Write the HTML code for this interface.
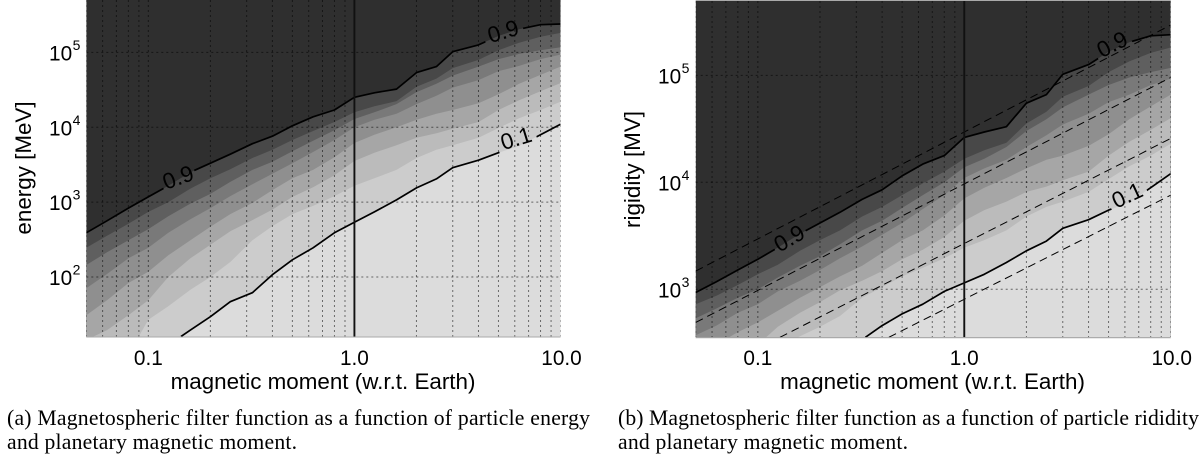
<!DOCTYPE html>
<html lang="en">
<head>
<meta charset="utf-8">
<title>Magnetospheric filter function</title>
<style>
html,body{margin:0;padding:0;background:#fff;width:1200px;height:455px;overflow:hidden}
svg{display:block}
.tick{font-family:"Liberation Sans",sans-serif;font-size:20.8px;fill:#000}
.title{font-family:"Liberation Sans",sans-serif;font-size:22.4px;fill:#000}
.clabel{font-family:"Liberation Sans",sans-serif;font-size:22.5px;fill:#000}
.caption{font-family:"Liberation Serif",serif;font-size:21.7px;fill:#000}
</style>
</head>
<body>
<svg id="figure" width="1200" height="455" viewBox="0 0 1200 455" xmlns="http://www.w3.org/2000/svg">
  <g id="panel-a"></g>
  <g id="panel-b"></g>
  <text class="caption" x="7" y="425" textLength="583" lengthAdjust="spacing">(a) Magnetospheric filter function as a function of particle energy</text>
  <text class="caption" x="7" y="449" textLength="290" lengthAdjust="spacing">and planetary magnetic moment.</text>
  <text class="caption" x="618" y="425" textLength="581" lengthAdjust="spacing">(b) Magnetospheric filter function as a function of particle rididity</text>
  <text class="caption" x="618" y="449" textLength="290" lengthAdjust="spacing">and planetary magnetic moment.</text>
</svg>
<script>
// Shared x grid: planetary magnetic moment (w.r.t. Earth)
const moments = [0.05,0.063,0.08,0.1,0.125,0.16,0.2,0.25,0.32,0.4,0.5,0.63,0.8,1,1.25,1.6,2,2.5,3,4,5,6.3,8,10];
const xGridMoments = [0.05,0.06,0.07,0.08,0.09,0.1,0.2,0.3,0.4,0.5,0.6,0.7,0.8,0.9,1,2,3,4,5,6,7,8,9,10];
const xTickValues = [0.1,1,10];
const xTickLabels = ["0.1","1.0","10.0"];
const bandColors = ["#484848","#5f5f5f","#797979","#8f8f8f","#a6a6a6","#bbbbbb","#cccccc","#dcdcdc"];
const bandLevels = ["0.9","0.8","0.7","0.6","0.5","0.4","0.25","0.1"];

// Panel (a): log10 of energy [MeV] of each filter contour, one value per moment
const energy90 = [2.59,2.75,2.92,3.07,3.22,3.40,3.52,3.64,3.78,3.88,4.02,4.14,4.23,4.40,4.46,4.51,4.73,4.81,5.01,5.10,5.22,5.31,5.37,5.38];
const energy80 = [2.39,2.55,2.71,2.87,3.00,3.18,3.32,3.44,3.59,3.70,3.83,3.95,4.07,4.20,4.28,4.35,4.54,4.65,4.79,4.90,5.03,5.13,5.21,5.26];
const energy70 = [2.16,2.33,2.49,2.64,2.81,2.98,3.11,3.27,3.43,3.54,3.68,3.82,3.96,4.11,4.20,4.31,4.47,4.58,4.69,4.81,4.91,4.98,5.03,5.07];
const energy60 = [1.85,2.04,2.25,2.39,2.59,2.77,2.92,3.08,3.24,3.38,3.52,3.67,3.83,4.00,4.10,4.18,4.31,4.42,4.53,4.63,4.75,4.82,4.91,4.97];
const energy50 = [1.49,1.69,1.92,2.07,2.29,2.49,2.67,2.84,2.99,3.16,3.32,3.43,3.60,3.79,3.90,4.00,4.10,4.18,4.23,4.32,4.44,4.58,4.70,4.81];
const energy40 = [1.16,1.29,1.49,1.69,2.00,2.25,2.43,2.61,2.76,2.90,3.07,3.20,3.36,3.55,3.66,3.76,3.86,3.92,3.98,4.07,4.23,4.36,4.48,4.59];
const energy25 = [0.09,0.42,0.96,1.43,1.61,1.83,2.00,2.20,2.49,2.68,2.84,2.95,3.08,3.22,3.32,3.43,3.59,3.70,3.76,3.86,3.99,4.12,4.23,4.34];
const energy10 = [-0.18,0.22,0.62,0.92,1.09,1.29,1.47,1.67,1.79,2.03,2.23,2.39,2.59,2.73,2.87,3.03,3.19,3.31,3.46,3.56,3.66,3.75,3.90,4.04];
const energyTickExponents = [2,3,4,5];

// Panel (b): log10 of rigidity [MV] of each filter contour, one value per moment
const rigidity90 = [2.97,3.07,3.18,3.28,3.39,3.52,3.62,3.72,3.84,3.93,4.06,4.17,4.25,4.42,4.47,4.52,4.74,4.82,5.01,5.10,5.22,5.31,5.37,5.38];
const rigidity80 = [2.86,2.94,3.04,3.14,3.23,3.36,3.46,3.55,3.68,3.77,3.88,3.99,4.10,4.22,4.30,4.37,4.55,4.66,4.80,4.90,5.03,5.13,5.21,5.26];
const rigidity70 = [2.73,2.82,2.92,3.00,3.11,3.22,3.31,3.42,3.55,3.64,3.76,3.88,4.00,4.14,4.22,4.33,4.48,4.59,4.70,4.82,4.91,4.98,5.03,5.07];
const rigidity60 = [2.57,2.66,2.78,2.86,2.98,3.08,3.18,3.29,3.40,3.51,3.62,3.75,3.88,4.04,4.13,4.21,4.33,4.44,4.54,4.64,4.75,4.82,4.91,4.97];
const rigidity50 = [2.38,2.48,2.60,2.69,2.80,2.92,3.02,3.12,3.22,3.34,3.46,3.55,3.69,3.85,3.95,4.04,4.13,4.21,4.25,4.34,4.45,4.59,4.71,4.82];
const rigidity40 = [2.21,2.28,2.38,2.48,2.65,2.78,2.88,2.99,3.08,3.17,3.28,3.37,3.49,3.64,3.74,3.82,3.91,3.96,4.02,4.10,4.25,4.38,4.49,4.60];
const rigidity25 = [1.64,1.84,2.12,2.35,2.45,2.56,2.65,2.75,2.92,3.02,3.12,3.20,3.29,3.39,3.46,3.55,3.68,3.77,3.82,3.91,4.03,4.15,4.25,4.36];
const rigidity10 = [1.55,1.75,1.95,2.10,2.19,2.28,2.37,2.47,2.53,2.66,2.77,2.86,2.98,3.06,3.14,3.25,3.36,3.45,3.57,3.65,3.74,3.81,3.95,4.08];
const rigidityTickExponents = [3,4,5];

// Panel (b): dashed reference lines, log10 rigidity at the two end moments
const dashMoments = [0.05,10];
const dashLineA = [3.17,5.47];
const dashLineB = [2.69,4.98];
const dashLineC = [2.15,4.41];
const dashLineD = [1.64,3.88];

const energySeries = [energy90,energy80,energy70,energy60,energy50,energy40,energy25,energy10];
const rigiditySeries = [rigidity90,rigidity80,rigidity70,rigidity60,rigidity50,rigidity40,rigidity25,rigidity10];
const dashSeries = [dashLineA,dashLineB,dashLineC,dashLineD];

const NS = "http://www.w3.org/2000/svg";
function make(parent, tag, attrs, text){
  const el = document.createElementNS(NS, tag);
  for (const k in attrs) el.setAttribute(k, attrs[k]);
  if (text !== undefined) el.textContent = text;
  parent.appendChild(el);
  return el;
}

function drawPanel(cfg){
  const root = document.getElementById(cfg.id);
  const L = cfg.left, R = cfg.right, T = cfg.top, B = cfg.bottom;
  const xScale = m => L + (Math.log10(m) - Math.log10(0.05)) / (Math.log10(10) - Math.log10(0.05)) * (R - L);
  const yScale = v => B - (v - cfg.yMin) / (cfg.yMax - cfg.yMin) * (B - T);

  // Trace one contour, cutting it exactly where it crosses the plot floor.
  const tracePoints = function(vals){
    const out = [];
    moments.forEach(function(m, j){
      const x = xScale(m), y = yScale(vals[j]);
      if (j > 0){
        const px = xScale(moments[j - 1]), py = yScale(vals[j - 1]);
        if (py > B && y <= B){
          const f = (py - B) / (py - y);
          out.push((px + (x - px) * f).toFixed(1) + "," + B);
        }
      }
      if (y <= B) out.push(x.toFixed(1) + "," + y.toFixed(1));
    });
    return out;
  };

  const defs = make(root, "defs", {});
  const clip = make(defs, "clipPath", {id: cfg.id + "-clip"});
  make(clip, "rect", {x: L, y: T, width: R - L, height: B - T});
  const mask = make(defs, "mask", {id: cfg.id + "-mask", maskUnits: "userSpaceOnUse", x: 0, y: 0, width: 1200, height: 455});
  make(mask, "rect", {x: 0, y: 0, width: 1200, height: 455, fill: "#fff"});
  cfg.labels.forEach(function(lb){
    make(mask, "rect", {x: lb.x - lb.gap / 2, y: lb.y - 18, width: lb.gap, height: 36, fill: "#000",
      transform: "rotate(" + lb.angle + " " + lb.x + " " + lb.y + ")"});
  });

  const plot = make(root, "g", {"clip-path": "url(#" + cfg.id + "-clip)"});
  
  

  const bg = make(plot, "rect", {x: L, y: T, width: R - L, height: B - T, fill: "#2f2f2f"});
  
  

  cfg.series.forEach(function(vals, i){
    const pts = tracePoints(vals);
    pts.push(R + "," + B);
    if (yScale(vals[0]) <= B) pts.push(L + "," + B);
    const band = make(plot, "polygon", {points: pts.join(" "), fill: bandColors[i]});
    
    
  });

  xGridMoments.forEach(function(m){
    const gx = make(plot, "line", {x1: xScale(m), x2: xScale(m), y1: T, y2: B, stroke: "#000", "stroke-opacity": 0.52, "stroke-width": 1, "stroke-dasharray": "2 3"});
    
    
  });
  cfg.yTicks.forEach(function(e){
    const gy = make(plot, "line", {x1: L, x2: R, y1: yScale(e), y2: yScale(e), stroke: "#000", "stroke-opacity": 0.55, "stroke-width": 1, "stroke-dasharray": "2 3"});
    
    
  });

  if (cfg.dashes){
    cfg.dashes.forEach(function(d){
      const x0 = xScale(dashMoments[0]), x1 = xScale(dashMoments[1]);
      const y0 = yScale(d[0]), y1 = yScale(d[1]);
      // Lines that start below the plot are trimmed to the plot floor.
      const f = y0 > B ? (y0 - B) / (y0 - y1) : 0;
      const dl = make(plot, "line", {x1: x0 + (x1 - x0) * f, y1: y0 + (y1 - y0) * f, x2: x1, y2: y1, stroke: "#000", "stroke-width": 1, "stroke-dasharray": "8 5"});
      
      
    });
  }

  const lines = make(plot, "g", {mask: "url(#" + cfg.id + "-mask)"});
  
  
  [0, 7].forEach(function(i){
    const pts = tracePoints(cfg.series[i]).join(" ");
    const line = make(lines, "polyline", {points: pts, fill: "none", stroke: "#000", "stroke-width": 1.7, "stroke-linejoin": "round"});
    
    
  });

  const earth = make(plot, "line", {x1: xScale(1), x2: xScale(1), y1: T, y2: B, stroke: "#111", "stroke-width": 1.9});
  
  

  const axisLine = make(root, "line", {x1: L, x2: R, y1: B + 0.5, y2: B + 0.5, stroke: "#aaa", "stroke-width": 1});
  
  
  if (T > 0){
    const topLine = make(root, "line", {x1: L, x2: R, y1: T - 0.5, y2: T - 0.5, stroke: "#aaa", "stroke-width": 1});
    
    
  }

  cfg.labels.forEach(function(lb){
    const t = make(root, "text", {class: "clabel", x: lb.x, y: lb.y + 8, "text-anchor": "middle",
      transform: "rotate(" + lb.angle + " " + lb.x + " " + lb.y + ")"}, lb.text);
    
    
  });

  xTickValues.forEach(function(m, i){
    const t = make(root, "text", {class: "tick", x: xScale(m) + (i === 2 ? 1 : 0), y: 365, "text-anchor": "middle"}, xTickLabels[i]);
    
    
  });
  cfg.yTicks.forEach(function(e){
    const t = make(root, "text", {class: "tick", x: cfg.yTickX, y: yScale(e) + 8}, "10");
    
    
    make(t, "tspan", {dx: 0.5, dy: -10.5, "font-size": 14}, String(e));
  });

  const xt = make(root, "text", {class: "title", x: cfg.xTitleX, y: 389, "text-anchor": "middle"}, "magnetic moment (w.r.t. Earth)");
  
  
  const yt = make(root, "text", {class: "title", x: 0, y: 0, "text-anchor": "middle",
    transform: "translate(" + cfg.yTitleX + " " + cfg.yTitleY + ") rotate(-90)"}, cfg.yTitle);
  
  
}

drawPanel({
  id: "panel-a", left: 86.3, right: 560.5, top: 0, bottom: 336.5,
  yMin: 1.205, yMax: 5.70, series: energySeries, yTicks: energyTickExponents,
  yTickX: 49, xTitleX: 323, yTitle: "energy [MeV]", yTitleX: 31, yTitleY: 168,
  labels: [
    {text: "0.9", x: 178, y: 177, angle: -20, gap: 35},
    {text: "0.9", x: 503, y: 31, angle: -17, gap: 40},
    {text: "0.1", x: 516, y: 138, angle: -17, gap: 40}
  ]
});
drawPanel({
  id: "panel-b", left: 695.7, right: 1170.7, top: 1, bottom: 337.3,
  yMin: 2.551, yMax: 5.695, series: rigiditySeries, yTicks: rigidityTickExponents, dashes: dashSeries,
  yTickX: 658, xTitleX: 932.5, yTitle: "rigidity [MV]", yTitleX: 640, yTitleY: 169.5,
  labels: [
    {text: "0.9", x: 789, y: 238, angle: -30, gap: 36},
    {text: "0.9", x: 1112, y: 44, angle: -27, gap: 38},
    {text: "0.1", x: 1127, y: 195, angle: -25, gap: 40}
  ]
});
</script>
</body>
</html>
